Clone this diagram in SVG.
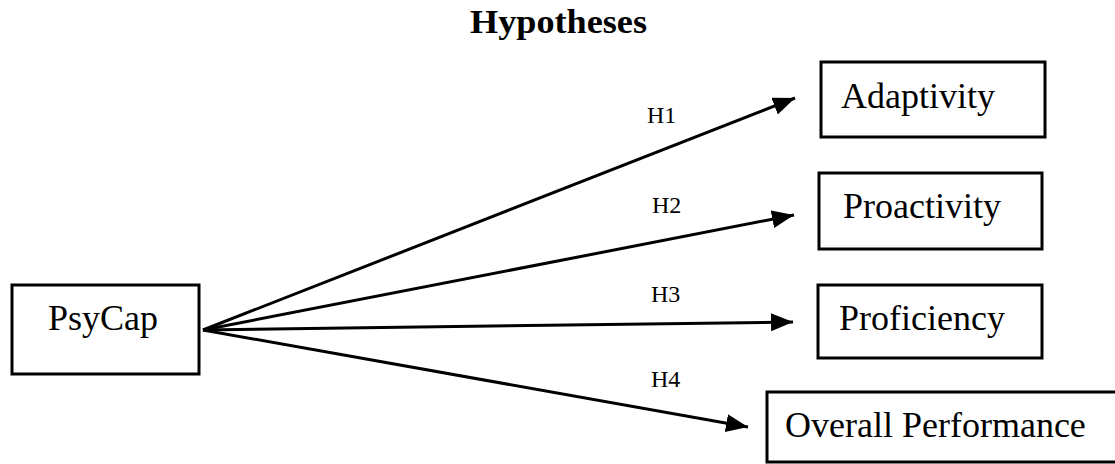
<svg xmlns="http://www.w3.org/2000/svg" width="1115" height="464" viewBox="0 0 1115 464">
<style>
.box{fill:#fff;stroke:#000;stroke-width:3}
.lbl{font-family:"Liberation Serif","Times New Roman",serif;font-size:36px;fill:#000}
.h{font-family:"Liberation Serif","Times New Roman",serif;font-size:24px;fill:#000}
.title{font-family:"Liberation Serif","Times New Roman",serif;font-size:33px;font-weight:bold;fill:#000}
.conn{stroke:#000;stroke-width:3;fill:none;marker-end:url(#ah)}
</style>
<defs>
<marker id="ah" markerUnits="userSpaceOnUse" markerWidth="24" markerHeight="20" refX="22" refY="9" orient="auto">
<path d="M0,0 L22,9 L0,18 Z" fill="#000"/>
</marker>
</defs>
<rect width="1115" height="464" fill="#fff"/>
<text class="title" x="470" y="33" textLength="177" lengthAdjust="spacingAndGlyphs">Hypotheses</text>
<g id="connectors">
<line class="conn" x1="203" y1="330" x2="795" y2="98"/>
<line class="conn" x1="203" y1="330" x2="794" y2="215"/>
<line class="conn" x1="203" y1="330" x2="793" y2="322"/>
<line class="conn" x1="203" y1="330" x2="748" y2="427"/>
<text class="h" x="647" y="123">H1</text>
<text class="h" x="652" y="213">H2</text>
<text class="h" x="651" y="302">H3</text>
<text class="h" x="651" y="387">H4</text>
</g>
<g id="psycap">
<rect class="box" x="12" y="285" width="187" height="89"/>
<text class="lbl" x="48" y="330">PsyCap</text>
</g>
<g id="adaptivity">
<rect class="box" x="821" y="62" width="224" height="75"/>
<text class="lbl" x="841" y="108">Adaptivity</text>
</g>
<g id="proactivity">
<rect class="box" x="819" y="173" width="223" height="76"/>
<text class="lbl" x="843" y="218">Proactivity</text>
</g>
<g id="proficiency">
<rect class="box" x="818" y="285" width="224" height="73"/>
<text class="lbl" x="839" y="330">Proficiency</text>
</g>
<g id="overall">
<rect class="box" x="767" y="392" width="360" height="70"/>
<text class="lbl" x="785" y="437">Overall Performance</text>
</g>
</svg>
